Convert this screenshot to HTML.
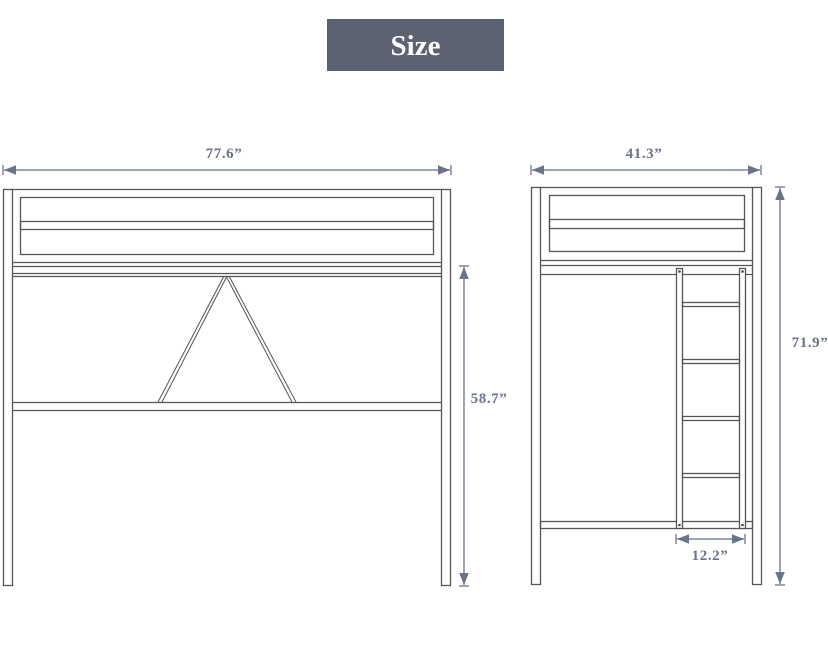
<!DOCTYPE html>
<html><head><meta charset="utf-8"><style>
html,body{margin:0;padding:0;background:#fff;width:828px;height:645px;overflow:hidden}
svg{display:block}
text{font-family:"Liberation Serif",serif;font-weight:bold;fill:#6b7388}
</style></head><body>
<svg width="828" height="645" viewBox="0 0 828 645">
<defs>
<marker id="a" viewBox="0 0 10 10" refX="10" refY="5" markerWidth="8" markerHeight="8" orient="auto-start-reverse"><path d="M0,1 L10,5 L0,9 z" fill="#6b7388"/></marker>
</defs>
<rect x="327" y="19" width="177" height="52" fill="#5d6273"/>
<text x="415.5" y="55" text-anchor="middle" style="fill:#fff;font-size:29px">Size</text>

<g fill="none" stroke="#555" stroke-width="1.3">
<rect x="3.5" y="189.5" width="9" height="396"/>
<rect x="441.5" y="189.5" width="9" height="396"/>
<line x1="12" y1="189.5" x2="441" y2="189.5"/>
<rect x="20.5" y="197.5" width="413" height="57"/>
<rect x="20.5" y="221.5" width="413" height="8"/>
<line x1="12" y1="262.5" x2="441" y2="262.5"/>
<line x1="12" y1="266.5" x2="441" y2="266.5"/>
<line x1="12" y1="273.5" x2="441" y2="273.5"/>
<line x1="12" y1="276.5" x2="441" y2="276.5"/>
<line x1="12" y1="402.5" x2="441" y2="402.5"/>
<line x1="12" y1="410.5" x2="441" y2="410.5"/>
<g stroke-width="1">
<line x1="224" y1="276" x2="158" y2="402"/>
<line x1="227" y1="276" x2="162" y2="402"/>
<line x1="226" y1="276" x2="292" y2="402"/>
<line x1="229" y1="276" x2="296" y2="402"/>
</g>
<rect x="531.5" y="187.5" width="9" height="397"/>
<rect x="752.5" y="187.5" width="9" height="397"/>
<line x1="540" y1="187.5" x2="752" y2="187.5"/>
<rect x="549.5" y="195.5" width="195" height="56"/>
<rect x="549.5" y="219.5" width="195" height="9"/>
<line x1="540" y1="260.5" x2="752" y2="260.5"/>
<line x1="540" y1="265.5" x2="752" y2="265.5"/>
<line x1="540" y1="274.5" x2="752" y2="274.5"/>
<rect x="540.5" y="521.5" width="212" height="7"/>
<rect x="676.5" y="268.5" width="6" height="260" fill="#fff"/>
<rect x="739.5" y="268.5" width="6" height="260" fill="#fff"/>
<rect x="682.5" y="302.5" width="57" height="4"/>
<rect x="682.5" y="359.5" width="57" height="4"/>
<rect x="682.5" y="416.5" width="57" height="4"/>
<rect x="682.5" y="473.5" width="57" height="4"/>
</g>
<g fill="#444">
<circle cx="679.5" cy="271.5" r="1.3"/><circle cx="742.5" cy="271.5" r="1.3"/>
<circle cx="679.5" cy="525" r="1.3"/><circle cx="742.5" cy="525" r="1.3"/>
</g>

<g stroke="#7d869b" stroke-width="1.5" fill="none">
<line x1="4" y1="170" x2="450" y2="170" marker-start="url(#a)" marker-end="url(#a)"/>
<line x1="3" y1="165" x2="3" y2="175"/><line x1="451" y1="165" x2="451" y2="175"/>
<line x1="464" y1="267" x2="464" y2="585" marker-start="url(#a)" marker-end="url(#a)"/>
<line x1="459" y1="266" x2="469" y2="266"/><line x1="459" y1="586" x2="469" y2="586"/>
<line x1="532" y1="170" x2="760" y2="170" marker-start="url(#a)" marker-end="url(#a)"/>
<line x1="531" y1="165" x2="531" y2="175"/><line x1="761" y1="165" x2="761" y2="175"/>
<line x1="780" y1="188" x2="780" y2="584" marker-start="url(#a)" marker-end="url(#a)"/>
<line x1="775" y1="187" x2="785" y2="187"/><line x1="775" y1="585" x2="785" y2="585"/>
<line x1="677" y1="539" x2="744" y2="539" marker-start="url(#a)" marker-end="url(#a)"/>
<line x1="676" y1="534" x2="676" y2="544"/><line x1="745" y1="534" x2="745" y2="544"/>
</g>
<g font-size="15" letter-spacing="0.6">
<text x="224" y="158" text-anchor="middle">77.6”</text>
<text x="489" y="403" text-anchor="middle">58.7”</text>
<text x="644" y="158" text-anchor="middle">41.3”</text>
<text x="810" y="347" text-anchor="middle">71.9”</text>
<text x="710" y="560" text-anchor="middle">12.2”</text>
</g>
</svg>
</body></html>
